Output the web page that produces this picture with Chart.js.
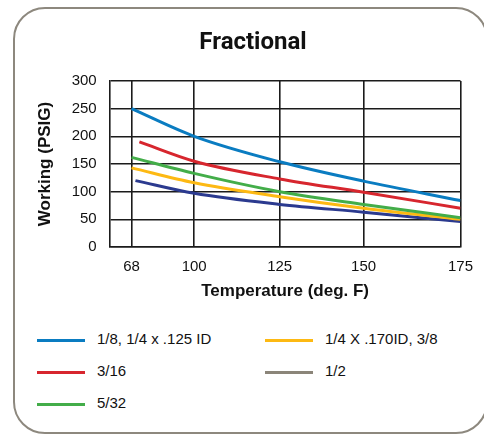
<!DOCTYPE html>
<html>
<head>
<meta charset="utf-8">
<script src="https://cdn.jsdelivr.net/npm/chart.js@4.4.1/dist/chart.umd.min.js"></script>
<style>
  html, body { margin: 0; padding: 0; background: #fff; overflow: hidden; }
  body { width: 484px; height: 434px; position: relative; }
  .card {
    position: absolute; left: 13px; top: 7px; width: 475px; height: 427px;
    box-sizing: border-box; border: 2px solid #8d887e; border-radius: 32px;
  }
  .chart-box { position: absolute; left: 0; top: 0; width: 484px; height: 307px; }
  .key { position: absolute; font: 15px "Liberation Sans", Arial, sans-serif; color: #111; }
  .key span.swatch { position: absolute; left: 0; top: 0; width: 48px; height: 3px; }
  .key span.label { position: absolute; left: 60px; top: -9px; white-space: nowrap; }
</style>
</head>
<body>
<div class="card"></div>
<div class="chart-box"><canvas id="fracChart"></canvas></div>
<div id="legend"></div>
<script>
// series data (temperature deg F -> working pressure PSIG)
const seriesNames = ['1/8, 1/4 x .125 ID', '3/16', '5/32', '1/4 X .170ID, 3/8', '1/2'];
const lineColors = ['#0a7cc1', '#d7262e', '#43ad49', '#fdb913', '#2b3a8f'];
const keyColors = ['#0a7cc1', '#d7262e', '#43ad49', '#fdb913', '#8b8579'];

const tempsBlue = [68, 100, 125, 150, 175];
const psigBlue = [250, 200, 154, 119, 84];
const tempsRed = [72, 100, 125, 150, 175];
const psigRed = [190, 155, 123, 99, 70];
const tempsGreen = [68, 100, 125, 150, 175];
const psigGreen = [162, 133, 100, 77, 53];
const tempsYellow = [68, 100, 125, 150, 175];
const psigYellow = [143, 116, 91, 70, 50];
const tempsNavy = [70, 100, 125, 150, 175];
const psigNavy = [120, 97, 77, 63, 46];

const xTicks = [68, 100, 125, 150, 175];
const yTicks = [0, 50, 100, 150, 200, 250, 300];

// the original temperature axis is not evenly spaced, so warp it piecewise
const warpTemps = [56.5, 68, 100, 125, 150, 175];
const warpSteps = [0, 22.3, 86.3, 173.6, 259.3, 358.3];

function warp(t) {
    const last = warpSteps[warpSteps.length - 1];
    for (let i = 1; i < warpTemps.length; i++) {
        if (t <= warpTemps[i] || i === warpTemps.length - 1) {
            const f = (t - warpTemps[i - 1]) / (warpTemps[i] - warpTemps[i - 1]);
            return (warpSteps[i - 1] + f * (warpSteps[i] - warpSteps[i - 1])) / last;
        }
    }
}
function unwarp(d) {
    const last = warpSteps[warpSteps.length - 1];
    const p = d * last;
    for (let i = 1; i < warpSteps.length; i++) {
        if (p <= warpSteps[i] || i === warpSteps.length - 1) {
            const f = (p - warpSteps[i - 1]) / (warpSteps[i] - warpSteps[i - 1]);
            return warpTemps[i - 1] + f * (warpTemps[i] - warpTemps[i - 1]);
        }
    }
}

class WarpScale extends Chart.LinearScale {
    getPixelForValue(value) {
        return this.getPixelForDecimal(warp(value));
    }
    getValueForPixel(pixel) {
        return unwarp(this.getDecimalForPixel(pixel));
    }
}
WarpScale.id = 'warp';
WarpScale.defaults = {};
Chart.register(WarpScale);

const pairs = (xs, ys) => xs.map((x, i) => ({ x: x, y: ys[i] }));
const allTemps = [tempsBlue, tempsRed, tempsGreen, tempsYellow, tempsNavy];
const allPsig = [psigBlue, psigRed, psigGreen, psigYellow, psigNavy];

const tickFont = { family: '"Liberation Sans", Arial, sans-serif', size: 15 };
const axisTitleFont = { family: '"Liberation Sans", Arial, sans-serif', size: 17, weight: 'bold' };
const gridColor = '#1b1b1b';

new Chart(document.getElementById('fracChart'), {
    type: 'line',
    data: {
        datasets: seriesNames.map((name, i) => ({
            label: name,
            data: pairs(allTemps[i], allPsig[i]),
            borderColor: lineColors[i],
            backgroundColor: lineColors[i],
            borderWidth: 3,
            pointRadius: 0,
            cubicInterpolationMode: 'monotone',
            fill: false
        }))
    },
    options: {
        responsive: true,
        maintainAspectRatio: false,
        animation: false,
        layout: { padding: { left: 38, right: 16, top: 0, bottom: 0 } },
        plugins: {
            legend: { display: false },
            tooltip: { enabled: false },
            title: {
                display: true,
                text: 'Fractional',
                color: '#111',
                font: { family: 'Roboto, "Liberation Sans", sans-serif', size: 24, weight: 'bold' },
                padding: { top: 28.6, bottom: 23.6 }
            }
        },
        scales: {
            x: {
                type: 'warp',
                min: 56.5,
                max: 175,
                afterBuildTicks: s => { s.ticks = xTicks.map(v => ({ value: v })); },
                afterFit: s => { s.height = 60; },
                ticks: {
                    color: '#111',
                    font: tickFont,
                    padding: 11,
                    autoSkip: false,
                    maxRotation: 0,
                    callback: v => String(v)
                },
                grid: { color: gridColor, lineWidth: 1.6, drawTicks: false },
                border: { color: gridColor, width: 1.6 },
                title: {
                    display: true,
                    text: 'Temperature (deg. F)',
                    color: '#111',
                    font: axisTitleFont,
                    padding: { top: 0, bottom: 5 }
                }
            },
            y: {
                min: 0,
                max: 300,
                afterBuildTicks: s => { s.ticks = yTicks.map(v => ({ value: v })); },
                afterFit: s => { s.width = 71.7; },
                ticks: { color: '#111', font: tickFont, padding: 13 },
                grid: { color: gridColor, lineWidth: 1.6, drawTicks: false },
                border: { color: gridColor, width: 1.6 },
                title: {
                    display: true,
                    text: 'Working (PSIG)',
                    color: '#111',
                    font: axisTitleFont,
                    padding: { top: -3.2, bottom: 0 }
                }
            }
        }
    }
});

// legend laid out in two columns like the original
const legendEl = document.getElementById('legend');
const keyCols = [37, 265];
const keyRows = [339, 371, 403];
seriesNames.forEach((name, i) => {
    const item = document.createElement('div');
    item.className = 'key';
    item.style.left = keyCols[i < 3 ? 0 : 1] + 'px';
    item.style.top = keyRows[i % 3] + 'px';
    item.innerHTML = '<span class="swatch" style="background:' + keyColors[i] + '"></span><span class="label"></span>';
    item.querySelector('.label').textContent = name;
    legendEl.appendChild(item);
});
</script>
</body>
</html>
